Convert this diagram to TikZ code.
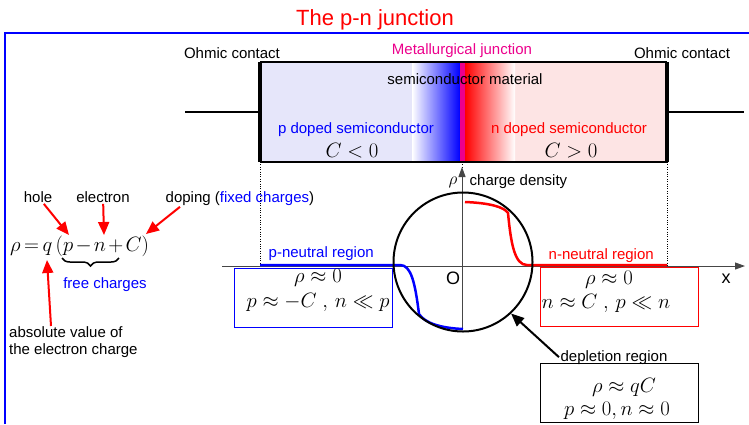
\documentclass[tikz,border=0pt]{standalone}
\usepackage{amsmath, amssymb}
\usepackage{fontspec}
\setmainfont{Liberation Sans}
\usetikzlibrary{arrows.meta, positioning, calc, decorations.pathreplacing}
\definecolor{PFill}{RGB}{230, 230, 250}
\definecolor{NFill}{RGB}{253, 228, 228}
\definecolor{AxisGray}{RGB}{70, 70, 70}
\newcommand{\lblfont}{\fontsize{15}{17}\selectfont}
\newcommand{\bigmath}{\fontsize{20}{22}\selectfont}

\begin{document}
\begin{tikzpicture}[x=1pt, y=-1pt,
    lbl/.style={font=\lblfont, anchor=base, inner sep=1.5pt},
    mth/.style={font=\bigmath, anchor=base, inner sep=1pt},
    redarrow/.style={draw=red, line width=2pt, -{Triangle[length=13pt, width=11pt]}, red},
    axisline/.style={draw=AxisGray, line width=1pt, -{Triangle[length=10pt, width=7pt]}},
    regionbox/.style={draw, line width=1pt, minimum width=158pt, minimum height=59pt, inner sep=0pt}]
    \useasboundingbox (0,0) rectangle (749,424);

    % title and frame
    \node[lbl, font=\fontsize{22}{24}\selectfont, red] (title) at (375,25) {The p-n junction};
    \draw[blue, line width=2pt] (5,424) -- (5,33) -- (749,33);

    % the semiconductor bar
    \fill[PFill] (260,62) rectangle (412,162);
    \fill[NFill] (515,62) rectangle (667,162);
    \shade[left color=white, right color=blue] (412,62) rectangle (460,162);
    \shade[left color=red, right color=white] (465,62) rectangle (515,162);
    \fill[magenta] (460,62) rectangle (465,162);
    \draw[line width=1.2pt] (260,62) -- (667,62);
    \draw[line width=1.2pt] (260,162) -- (667,162);
    \coordinate (cL) at (260,112);
    \coordinate (cR) at (667,112);
    \draw[line width=4pt] (260,62) -- (260,162);
    \draw[line width=4pt] (667,62) -- (667,162);
    \coordinate (wireL) at (185,112);
    \coordinate (wireR) at (744,112);
    \draw[line width=2pt] (wireL) -- (cL);
    \draw[line width=2pt] (cR) -- (wireR);

    \node[lbl] (ohmicL) at (232,58) {Ohmic contact};
    \node[lbl] (ohmicR) at (682,58) {Ohmic contact};
    \node[lbl, magenta] (metjun) at (462,54) {Metallurgical junction};
    \node[lbl] (semimat) at (465,84) {semiconductor material};
    \node[lbl, blue] (pdoped) at (356,133) {p doped semiconductor};
    \node[lbl, red] (ndoped) at (569,133) {n doped semiconductor};
    \node[mth] (cneg) at (352,157) {$C<0$};
    \node[mth] (cpos) at (571,157) {$C>0$};

    % projections down to the axis
    \draw[dotted] (260,162) -- (260,266);
    \draw[dotted] (667,162) -- (667,266);
    \draw[dotted] (462.5,162) -- (462.5,168);

    % charge density axes
    \coordinate (xs) at (222,266);
    \coordinate (xe) at (745,266);
    \coordinate (ys) at (462,330);
    \coordinate (ye) at (462,167);
    \draw[axisline] (xs) -- (xe);
    \draw[axisline] (ys) -- (ye);
    \node[lbl, font=\fontsize{18}{20}\selectfont] (xlbl) at (726,283) {x};
    \node[lbl, font=\fontsize{18}{20}\selectfont] (origin) at (453,284) {O};
    \node[mth, font=\fontsize{19}{21}\selectfont] (rholbl) at (453,184) {$\rho$};
    \node[lbl, anchor=base west] (chdens) at (468,185) {charge density};

    % charge density profile
    \draw[blue, line width=2.5pt] (260,265) -- (400,265)
        .. controls (411,265) and (415,282) .. (419,314)
        .. controls (425,323) and (440,328) .. (463,329);
    \draw[red, line width=2.5pt] (465,202)
        .. controls (490,203) and (504,207) .. (508,213)
        .. controls (511,245) and (515,265) .. (527,265) -- (667,265);
    \node[draw, circle, line width=2pt, minimum size=139pt, inner sep=0pt] (depl) at (463,262) {};

    \node[lbl, blue, anchor=base west] (pneutral) at (267,257) {p-neutral region};
    \node[lbl, red, anchor=base west] (nneutral) at (547,259) {n-neutral region};

    % region boxes
    \node[regionbox, draw=blue] (pbox) at (313,297.5) {};
    \node[mth] (prho) at (318,282) {$\rho\approx 0$};
    \node[mth] (pcond) at (318,307) {$p\approx -C\;,\,n\ll p$};
    \node[regionbox, draw=red] (nbox) at (619.5,296.5) {};
    \node[mth] (nrho) at (609,284) {$\rho\approx 0$};
    \node[mth] (ncond) at (606,308) {$n\approx C\;,\,p\ll n$};
    \node[regionbox, draw=black, minimum height=59pt] (dbox) at (619.5,393) {};
    \node[mth] (drho) at (624,392) {$\rho\approx qC$};
    \node[mth] (dcond) at (617,415) {$p\approx 0, n\approx 0$};
    \node[lbl] (depllbl) at (614,361) {depletion region};
    \draw[line width=2pt, -{Triangle[length=13pt, width=11pt]}] (depllbl.west) -- (depl.-47);

    % the charge equation
    \node[mth, anchor=base west, font=\fontsize{21.5}{23}\selectfont] (eq) at (9,251)
        {$\thickmuskip=3mu \medmuskip=2mu \rho=q\,(p-n+C)$};
    \coordinate (holept) at (69,235);
    \coordinate (elecpt) at (104,235);
    \coordinate (dopept) at (146,234);
    \coordinate (qpt) at (47,260);
    \node[lbl] (hole) at (38,202) {hole};
    \node[lbl] (electron) at (103,202) {electron};
    \node[lbl, anchor=base west] (doping) at (164,202) {doping (\textcolor{blue}{fixed charges})};
    \draw[redarrow] (hole) -- (holept);
    \draw[redarrow] (electron) -- (elecpt);
    \draw[redarrow] ([xshift=16pt]doping.south west) -- (dopept);
    \draw[line width=1.5pt, decorate, decoration={brace, mirror, amplitude=8pt}] (62,258) -- (119,258);
    \node[lbl, blue] (freech) at (105,288) {free charges};
    \node[font=\lblfont, anchor=north west, align=left, inner sep=0pt] (abslbl) at (9,326)
        {absolute value of\\the electron charge};
    \draw[redarrow] (abslbl.north -| 51,0) -- (qpt);
\end{tikzpicture}
\end{document}
